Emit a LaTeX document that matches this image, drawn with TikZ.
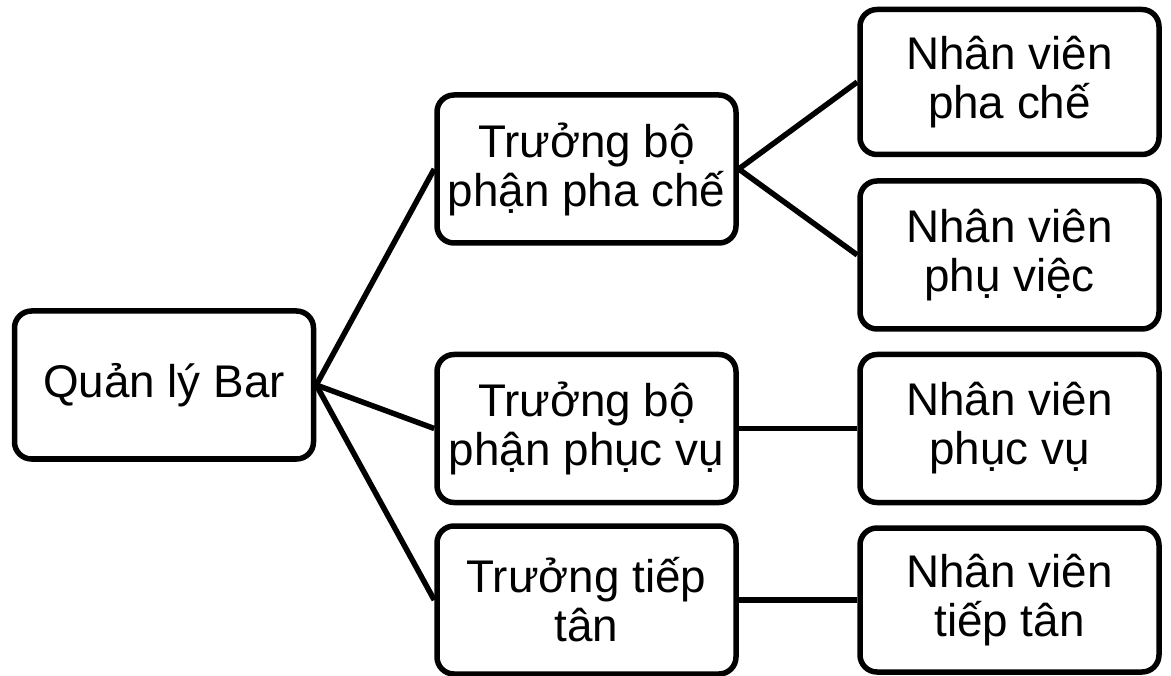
\documentclass[tikz,border=0pt]{standalone}
\usepackage{fontspec}
\setmainfont{Liberation Sans}
\begin{document}
\begin{tikzpicture}[x=1pt,y=-1pt,
  box/.style={draw=black, line width=5.5pt, rounded corners=17pt, fill=white,
    inner sep=0pt, minimum width=299pt, minimum height=148pt,
    align=center, font=\fontsize{45.8}{49}\selectfont},
  conn/.style={draw=black, line width=5.5pt}]
\useasboundingbox (0,0) rectangle (1171,676);
\node[box] (q) at (164,385) {Quản lý Bar};
\node[box] (t1) at (586.5,169) {Trưởng bộ\\phận pha chế};
\node[box] (t2) at (586.5,428.5) {Trưởng bộ\\phận phục vụ};
\node[box] (t3) at (586.5,600) {Trưởng tiếp\\tân};
\node[box, minimum height=145pt] (n1) at (1009.5,82) {Nhân viên\\pha chế};
\node[box] (n2) at (1009.5,255) {Nhân viên\\phụ việc};
\node[box] (n3) at (1009.5,428.5) {Nhân viên\\phục vụ};
\node[box, minimum height=144pt] (n4) at (1009.5,600) {Nhân viên\\tiếp tân};
\draw[conn] (q.east) -- (t1.west);
\draw[conn] (q.east) -- (t2.west);
\draw[conn] (q.east) -- (t3.west);
\draw[conn] (t1.east) -- (n1.west);
\draw[conn] (t1.east) -- (n2.west);
\draw[conn] (t2.east) -- (n3.west);
\draw[conn] (t3.east) -- (n4.west);
\end{tikzpicture}
\end{document}
